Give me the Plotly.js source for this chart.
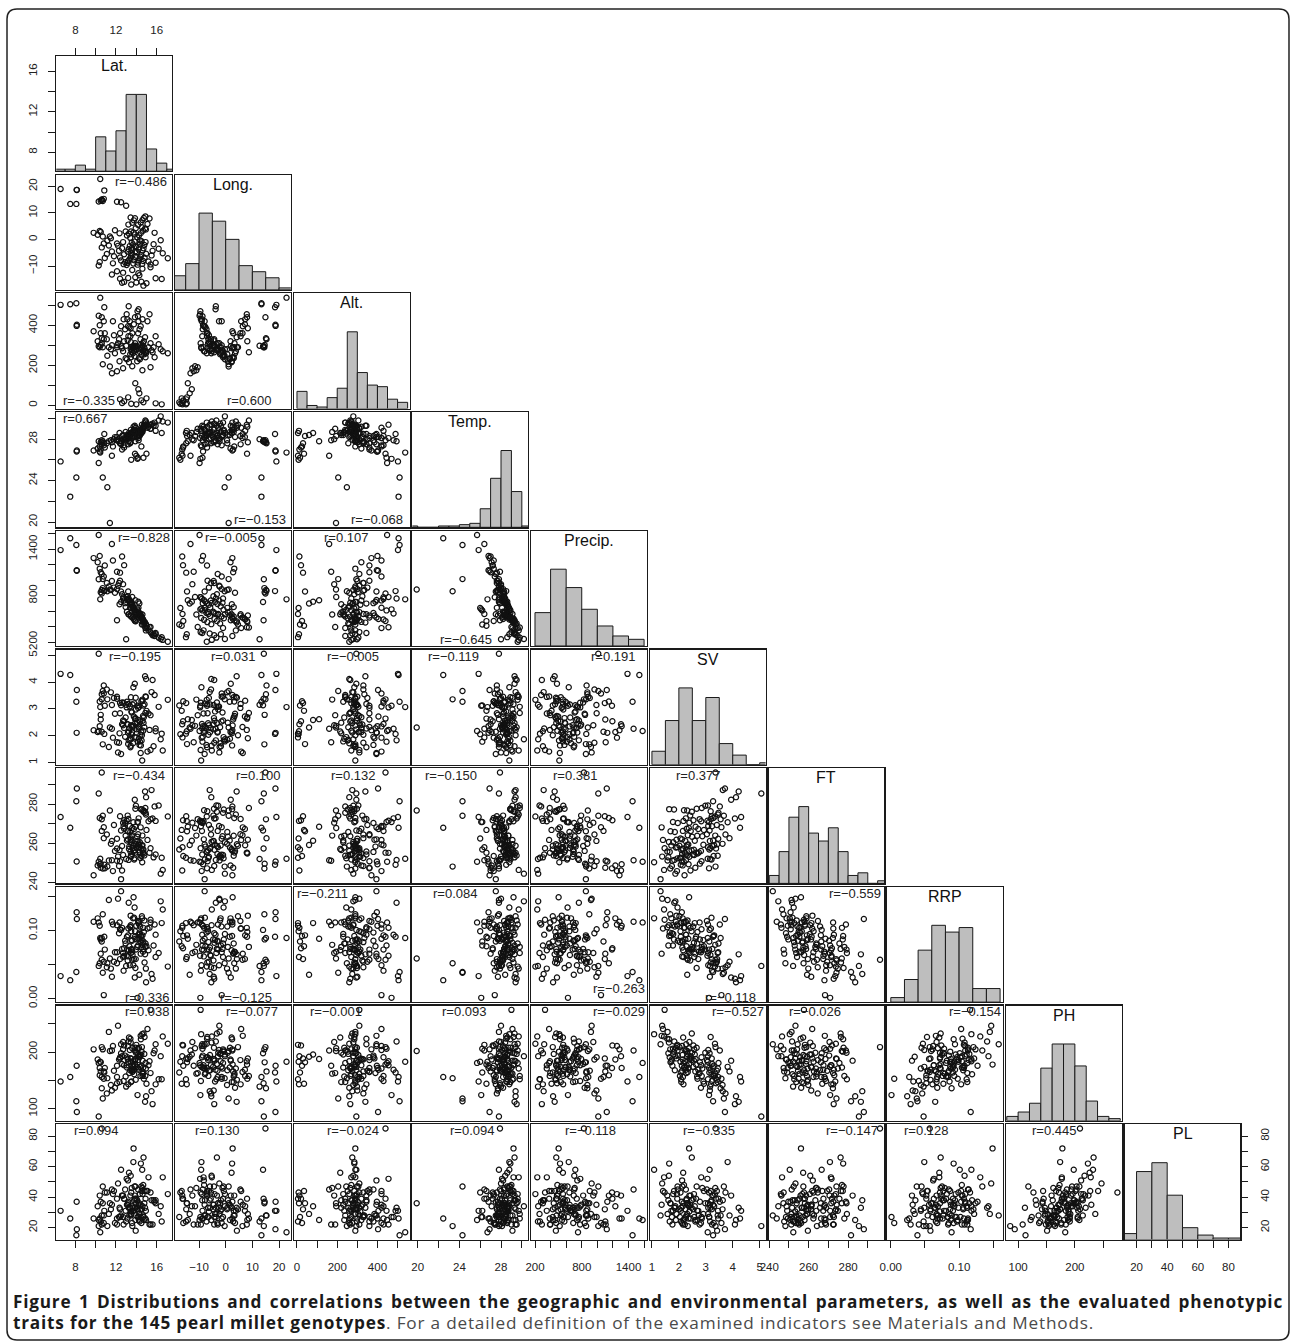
<!DOCTYPE html>
<html><head><meta charset="utf-8">
<script src="https://cdn.plot.ly/plotly-3.0.1.min.js"></script>
<style>html,body{margin:0;padding:0;background:#fff;}#chart{width:1290px;height:1341px;}</style>
</head><body><div id="chart"></div>
<script>
// ---------------- data (145 genotypes, read/estimated from the figure) ----------------
const varNames = ['Lat.', 'Long.', 'Alt.', 'Temp.', 'Precip.', 'SV', 'FT', 'RRP', 'PH', 'PL'];

const lat = [
 6.55, 8.13, 8.15, 7.5, 8.1, 10.45, 10.85, 10.3, 10.5, 10.6, 10.8, 10.7, 10.6, 12.1, 13.0, 12.5,
 12.6, 12.8, 12.4, 13.2, 13.5, 14.0, 14.5, 14.7, 15.0, 15.9, 16.5, 14.2, 14.3, 11.6, 12.1, 12.7, 13.6, 14.6, 15.4, 13.9,
 10.3, 10.7, 11.15, 11.4, 9.8, 10.2, 10.4, 10.5, 10.6, 10.8, 10.9, 10.4, 11.1, 11.3, 11.5, 11.6, 11.8, 11.9, 11.7,
 12.1, 12.2, 12.3, 12.4, 12.5, 12.6, 12.7, 12.8, 12.9, 12.35, 12.95, 12.75,
 13.05, 13.12, 13.18, 13.31, 13.42, 13.48, 13.63, 13.71, 13.79, 13.88, 13.45, 13.15, 13.25, 13.36, 13.52, 13.58, 13.68, 13.83, 13.91, 13.96, 13.55, 13.08, 13.28, 13.47, 13.73, 13.85, 13.94, 13.4, 13.22, 13.61, 13.76, 13.87, 13.44,
 14.12, 14.16, 14.21, 14.32, 14.41, 14.49, 14.58, 14.68, 14.81, 14.96, 14.05, 14.23, 14.29, 14.38, 14.52, 14.62, 14.71, 14.79, 14.91, 14.35, 14.09, 14.26, 14.45, 14.66, 14.86, 14.55, 14.94, 14.18, 14.43, 14.61, 14.74, 14.89,
 17.1, 16.4, 16.2, 16.6, 15.2, 15.4, 15.5, 15.6, 15.7, 15.8, 15.1, 15.3, 15.9
];
const lon = [
 19.0, 18.7, 18.65, 13.4, 13.4, 22.8, 18.5, 14.3, 14.6, 14.9, 15.3, 14.5, 15.1, 14.2, 12.7, 14.0,
 -16.3, -16.0, -14.8, -14.5, -17.0, -16.2, -15.9, -17.4, -16.5, -14.6, -14.9, -12.7, -13.5, -13.2, -12.0, -12.5, -11.5, -11.0, -10.5, -14.2,
 -9.8, 1.1, -0.4, 1.1, 2.5, 1.8, 3.2, 2.8, -3.0, -1.5, -7.0, -8.5, -5.5, -2.3, 0.5, -4.5, -6.3, 3.5, -9.0,
 -1.5, -2.4, -4.3, -6.8, -7.9, -3.3, -1.0, -5.6, -8.6, 2.3, 3.0, -9.3,
 -9.6, -8.9, -8.2, -7.6, -7.0, -6.3, -5.8, -9.1, -7.8, -6.6, -5.3, -4.6, -3.7, -2.5, -4.0, -3.1, -1.9, -0.8, -4.4, -2.8, -1.2, 1.5, 2.2, 3.0, 2.6, 1.9, 4.2, 0.6, 5.6, 6.3, 7.2, 8.0, 8.3,
 -9.5, -8.7, -7.9, -7.2, -6.5, -5.9, -9.2, -8.1, -6.9, -5.4, -4.7, -3.8, -2.9, -1.6, -0.7, -4.2, -3.3, -2.1, -1.0, -0.3, 0.8, 1.6, 2.4, 3.3, 4.1, 4.6, 3.8, 5.5, 6.4, 7.3, 8.1, 8.7,
 -7.1, -0.3, -3.5, -5.2, -8.3, -9.4, -6.0, -4.3, -1.8, 2.5, 5.8, 7.9, -8.8
];
const alt = [
 502, 397, 403, 505, 510, 538, 490, 295, 302, 440, 330, 290, 335, 290, 298, 295,
 12, 20, 30, 40, 8, 5, 25, 15, 35, 10, 5, 80, 60, 160, 170, 185, 195, 175, 190, 110,
 448, 205, 248, 194, 370, 320, 290, 360, 310, 420, 360, 400, 330, 290, 280, 300, 350, 260, 420,
 300, 310, 330, 360, 395, 285, 270, 320, 380, 220, 235, 430,
 455, 430, 395, 390, 345, 315, 295, 285, 270, 310, 280, 325, 495, 420, 290, 275, 260, 245, 298, 280, 265, 230, 215, 240, 290, 295, 290, 255, 345, 360, 405, 440, 385,
 470, 445, 420, 380, 330, 305, 290, 270, 285, 260, 295, 480, 280, 265, 252, 298, 275, 255, 240, 230, 220, 235, 285, 310, 340, 290, 270, 360, 395, 430, 320, 265,
 260, 280, 305, 270, 290, 310, 275, 265, 290, 240, 420, 455, 345
];
const temp = [
 25.85, 26.8, 26.9, 22.45, 24.3, 26.7, 28.5, 27.8, 27.7, 27.9, 27.6, 27.8, 27.7, 27.9, 28.0, 27.8,
 27.0, 27.2, 27.6, 28.3, 26.0, 26.4, 27.3, 26.2, 26.6, 28.8, 28.6, 28.6, 28.4, 26.4, 27.9, 28.0, 28.3, 28.7, 29.0, 27.8,
 25.7, 24.3, 23.35, 19.9, 26.9, 27.1, 27.3, 27.0, 27.5, 27.4, 27.2, 26.8, 27.6, 27.8, 27.9, 27.7, 28.0, 28.2, 27.3,
 28.2, 28.0, 27.8, 27.6, 27.5, 28.3, 28.4, 28.1, 27.9, 28.6, 28.7, 27.4,
 28.1, 28.3, 28.2, 28.4, 28.5, 28.6, 28.7, 28.8, 28.9, 28.6, 28.4, 28.2, 27.8, 28.1, 28.5, 28.6, 28.7, 28.8, 28.9, 29.1, 28.3, 28.4, 28.6, 28.9, 29.2, 29.3, 29.1, 27.6, 27.5, 28.1, 28.2, 26.6, 27.7,
 26.1, 26.2, 28.1, 28.3, 28.5, 28.6, 28.8, 29.0, 29.2, 29.4, 28.2, 27.9, 28.4, 28.7, 28.9, 29.1, 29.3, 29.5, 29.6, 28.6, 28.4, 28.7, 28.9, 29.1, 29.3, 29.4, 29.7, 28.3, 28.5, 28.8, 29.2, 29.8,
 29.6, 30.2, 29.8, 29.7, 29.2, 29.0, 29.4, 29.5, 29.3, 29.6, 29.1, 29.4, 29.3
];
const precip = [
 1387, 1128, 1121, 1539, 1452, 752, 858, 1012, 843, 828, 862, 897, 872, 483, 238, 717,
 1304, 1193, 1096, 853, 641, 562, 473, 428, 412, 301, 264, 722, 698, 1465, 1107, 948, 783, 557, 396, 741,
 1581, 1013, 856, 878, 1284, 1231, 1148, 1102, 1079, 1047, 1188, 1312, 963, 918, 872, 988, 903, 837, 1252,
 884, 927, 962, 991, 853, 818, 764, 736, 703, 688, 652, 779,
 781, 758, 743, 722, 697, 683, 648, 633, 612, 587, 704, 792, 763, 738, 719, 691, 662, 618, 579, 563, 709, 592, 558, 531, 503, 482, 468, 642, 561, 517, 498, 471, 543,
 623, 609, 644, 577, 562, 538, 512, 487, 458, 432, 591, 568, 553, 529, 508, 497, 473, 441, 382, 559, 582, 548, 521, 478, 452, 428, 351, 542, 519, 492, 461, 389,
 205, 241, 258, 229, 352, 329, 311, 288, 302, 279, 381, 392, 318
];
const sv = [
 4.31, 2.11, 3.71, 4.27, 3.27, 3.07, 2.07, 5.06, 2.78, 3.36, 3.88, 1.68, 3.55, 3.38, 3.16, 3.14,
 2.43, 2.54, 3.22, 1.69, 2.06, 1.94, 3.29, 3.13, 2.93, 2.17, 2.08, 2.59, 2.31, 2.26, 1.76, 2.39, 2.37, 3.35, 2.77, 2.62,
 2.18, 3.67, 3.36, 2.31, 2.21, 2.14, 3.28, 2.61, 2.15, 3.58, 3.12, 2.36, 3.73, 1.58, 3.62, 3.15, 3.41, 2.82, 1.93,
 3.46, 1.38, 1.74, 2.84, 1.32, 3.24, 2.57, 2.29, 1.96, 2.09, 2.68, 3.23,
 3.06, 2.44, 2.12, 2.28, 1.57, 2.39, 3.17, 3.81, 3.21, 2.47, 1.63, 2.42, 1.83, 3.09, 2.91, 2.12, 1.72, 1.95, 2.66, 2.98, 2.87, 3.27, 2.16, 3.44, 2.38, 3.94, 3.42, 1.85, 3.19, 2.33, 2.72, 2.64, 1.91,
 3.12, 1.78, 2.35, 1.66, 2.04, 2.13, 1.08, 2.19, 3.18, 4.12, 2.24, 2.26, 3.08, 2.53, 1.82, 2.56, 2.48, 2.32, 3.47, 1.79, 2.49, 1.89, 1.64, 2.74, 4.22, 2.02, 3.45, 3.04, 1.36, 3.31, 2.69, 2.85,
 3.34, 1.87, 3.08, 1.45, 2.83, 1.47, 3.63, 4.08, 1.61, 3.52, 1.41, 2.22, 2.27
];
const ft = [
 273.5, 250.8, 288.0, 268.0, 281.5, 252.2, 249.1, 285.5, 249.7, 296.2, 262.7, 247.2, 272.3, 257.4, 252.1, 266.6,
 246.2, 271.8, 273.9, 266.2, 262.5, 258.1, 253.6, 256.9, 266.9, 271.5, 252.7, 261.4, 259.2, 251.4, 251.2, 270.6, 267.9, 264.0, 272.4, 268.5,
 250.7, 274.1, 248.2, 276.8, 243.8, 248.8, 273.0, 247.6, 266.4, 268.3, 247.3, 249.4, 264.6, 251.3, 259.8, 261.3, 269.4, 256.2, 245.9,
 262.4, 253.3, 248.5, 250.9, 241.8, 258.7, 254.1, 267.5, 270.4, 256.6, 263.9, 268.8,
 271.6, 266.3, 262.1, 258.4, 255.9, 253.2, 257.7, 270.8, 251.8, 256.5, 260.8, 274.2, 251.6, 268.9, 259.3, 254.6, 258.9, 252.4, 277.7, 279.2, 263.7, 261.5, 257.2, 253.7, 256.1, 282.3, 259.6, 265.8, 272.5, 264.2, 267.4, 255.3, 261.9,
 270.9, 270.9, 259.5, 255.7, 252.6, 257.3, 250.4, 276.9, 276.4, 283.6, 261.2, 272.8, 258.1, 254.3, 277.3, 256.8, 276.2, 253.9, 275.6, 260.6, 263.4, 257.9, 277.5, 255.4, 286.5, 258.8, 274.8, 264.7, 268.2, 259.1, 254.9, 278.1,
 273.8, 244.6, 279.4, 246.5, 271.3, 257.6, 287.2, 272.7, 252.9, 278.9, 261.8, 255.2, 254.4
];
const rrp = [
 0.033, 0.127, 0.117, 0.027, 0.039, 0.089, 0.091, 0.048, 0.087, 0.057, 0.054, 0.124, 0.089, 0.052, 0.048, 0.101,
 0.104, 0.074, 0.058, 0.093, 0.099, 0.107, 0.092, 0.084, 0.077, 0.061, 0.111, 0.111, 0.035, 0.113, 0.108, 0.067, 0.069, 0.079, 0.112, 0.088,
 0.112, 0.038, 0.052, 0.059, 0.113, 0.118, 0.052, 0.066, 0.084, 0.005, 0.072, 0.107, 0.046, 0.145, 0.044, 0.032, 0.054, 0.068, 0.109,
 0.068, 0.147, 0.096, 0.102, 0.158, 0.073, 0.061, 0.063, 0.085, 0.112, 0.081, 0.041,
 0.063, 0.072, 0.062, 0.077, 0.105, 0.072, 0.064, 0.049, 0.119, 0.099, 0.108, 0.056, 0.141, 0.049, 0.086, 0.085, 0.118, 0.134, 0.045, 0.072, 0.073, 0.091, 0.071, 0.067, 0.149, 0.031, 0.058, 0.106, 0.103, 0.057, 0.058, 0.091, 0.122,
 0.001, 0.078, 0.088, 0.097, 0.083, 0.075, 0.118, 0.104, 0.053, 0.024, 0.087, 0.094, 0.109, 0.106, 0.087, 0.082, 0.073, 0.115, 0.081, 0.095, 0.076, 0.113, 0.092, 0.069, 0.065, 0.121, 0.044, 0.114, 0.066, 0.093, 0.098, 0.076,
 0.047, 0.143, 0.067, 0.131, 0.071, 0.116, 0.036, 0.029, 0.078, 0.109, 0.103, 0.104, 0.094
];
const ph = [
 148, 176, 94, 156, 113, 183, 164, 86, 182, 209, 166, 205, 136, 145, 139, 198,
 193, 212, 189, 182, 183, 213, 176, 164, 144, 143, 152, 196, 192, 203, 176, 218, 207, 162, 163, 188,
 181, 118, 154, 202, 205, 187, 159, 166, 156, 153, 172, 172, 127, 236, 142, 132, 167, 137, 211,
 156, 247, 187, 191, 214, 179, 205, 177, 194, 147, 157, 149,
 177, 191, 211, 163, 224, 189, 168, 174, 161, 186, 217, 188, 219, 204, 148, 167, 184, 203, 208, 199, 171, 173, 226, 147, 178, 185, 151, 168, 143, 165, 169, 178, 189,
 124, 206, 171, 191, 158, 195, 232, 173, 227, 122, 174, 169, 193, 174, 201, 185, 233, 197, 181, 196, 199, 208, 223, 162, 112, 209, 171, 186, 229, 158, 153, 158,
 215, 193, 152, 228, 177, 275, 131, 108, 198, 203, 241, 184, 214
];
const pl = [
 31, 37, 19, 26, 15, 17, 31, 21, 37, 85, 28, 36, 28, 39, 24, 58,
 41, 39, 32, 36, 43, 39, 23, 27, 44, 36, 24, 34, 29, 45, 22, 41, 34, 46, 22, 25,
 25, 47, 21, 36, 26, 34, 41, 24, 22, 23, 43, 26, 43, 29, 32, 35, 44, 23, 42,
 26, 49, 27, 27, 28, 41, 27, 39, 45, 33, 31, 22,
 52, 26, 51, 28, 41, 30.6, 33, 63, 38, 33, 54, 35, 33, 33, 29, 23, 31, 47, 47, 36, 46, 35, 56, 28, 72, 41, 18, 33, 37, 21, 31, 39, 29,
 27, 31, 35, 24, 27, 47, 58, 48, 44, 25, 32, 27, 36, 32, 44, 42, 66, 36, 39, 42, 38, 25, 62, 28, 33, 32, 31, 45, 35, 34, 25, 26,
 42, 34, 29, 53, 53, 43, 38, 22, 38, 37, 44, 22, 38
];

// correlation labels printed in the lower panels (row-wise)
const rValues = [
 [-0.486],
 [-0.335, 0.600],
 [0.667, -0.153, -0.068],
 [-0.828, -0.005, 0.107, -0.645],
 [-0.195, 0.031, -0.005, -0.119, 0.191],
 [-0.434, 0.100, 0.132, -0.150, 0.381, 0.377],
 [0.336, -0.125, -0.211, 0.084, -0.263, -0.118, -0.559],
 [0.038, -0.077, -0.001, 0.093, -0.029, -0.527, -0.026, -0.154],
 [0.094, 0.130, -0.024, 0.094, -0.118, -0.335, -0.147, 0.128, 0.445]
];

// histogram breaks [start, end, step]
const histBreaks = [[6,18,1],[-20,25,5],[0,550,50],[19,31,1],[200,1600,200],[1,5.5,0.5],[240,300,5],[0,0.16,0.02],[80,280,20],[10,90,10]];

// tick values and labels
const tickVals = [[8,10,12,14,16],[-10,0,10,20],[0,100,200,300,400,500],[20,22,24,26,28,30],[200,400,600,800,1000,1200,1400,1600],[1,2,3,4,5],[240,250,260,270,280,290],[0,0.05,0.10,0.15],[100,150,200,250],[20,30,40,50,60,70,80]];
const tickText = [['8','','12','','16'],['\u221210','0','10','20'],['0','','200','','400',''],['20','','24','','28',''],['200','','','800','','','1400',''],['1','2','3','4','5'],['240','','260','','280',''],['0.00','','0.10',''],['100','','200',''],['20','','40','','60','','80']];

// caption text
const CAP1 = 'Figure 1 Distributions and correlations between the geographic and environmental parameters, as well as the evaluated phenotypic';
const CAP2B = 'traits for the 145 pearl millet genotypes';
const CAP2 = '. For a detailed definition of the examined indicators see Materials and Methods.';

// ---------------- layout / style ----------------
const W = 1290, H = 1341;
const colLeft = j => 56.3 + 118.7 * j, panelW = 115.8;
const rowTop = i => 56 + 118.7 * i, panelH = 115.2;
const px = x => x / W, py = y => 1 - y / H;

// label positions (pixels) for the r annotations, same nesting as rValues
const rPos = [
 [[168,181,'right']],
 [[62,400,'left'],[249,400,'center']],
 [[62,418,'left'],[287,520,'right'],[404,520,'right']],
 [[171,537,'right'],[230.5,537,'center'],[345.6,537,'center'],[466,639,'center']],
 [[162,656,'right'],[233,656,'center'],[353,656,'center'],[453,656,'center'],[636,656,'right']],
 [[138.5,775,'center'],[257.5,775,'center'],[353,775,'center'],[451,775,'center'],[575,775,'center'],[698,775,'center']],
 [[147,997,'center'],[245.5,997,'center'],[322.5,893,'center'],[454.7,893,'center'],[646,988,'right'],[730,997,'center'],[882,893,'right']],
 [[147,1011.7,'center'],[252,1011.7,'center'],[335.5,1011.7,'center'],[464,1011.7,'center'],[646,1011.7,'right'],[765,1011.7,'right'],[815,1011.7,'center'],[1002,1011.7,'right']],
 [[96,1130.7,'center'],[217,1130.7,'center'],[353,1130.7,'center'],[471.5,1130.7,'center'],[590,1130.7,'center'],[709,1130.7,'center'],[851.5,1130.7,'center'],[926,1130.7,'center'],[1054,1130.7,'center']]
];

const cols = [lat, lon, alt, temp, precip, sv, ft, rrp, ph, pl];
function rRange(v) { const mn = Math.min(...v), mx = Math.max(...v), d = mx - mn; return [mn - 0.04 * d, mx + 0.04 * d]; }
const ranges = cols.map(rRange);

const INK = '#1a1a1a';
const FONT = 'Liberation Sans, Arial, Helvetica, sans-serif';
const frameAxis = { showline: true, mirror: true, linecolor: INK, linewidth: 1.2, showgrid: false, zeroline: false, fixedrange: true };
const noTicks = { ticks: '', showticklabels: false };
function tickAxis(v, side) {
  const vertical = side === 'left' || side === 'right';
  return { side: side, ticks: 'outside', ticklen: 7, tickwidth: 1, tickcolor: INK,
    tickmode: 'array', tickvals: tickVals[v], ticktext: tickText[v], showticklabels: true,
    tickfont: { family: FONT, size: 11.5, color: '#222' }, tickangle: vertical ? -90 : 0,
    ticklabelstandoff: vertical ? 7 : 9 };
}

function histogram(v, br) {
  const [s, e, st] = br, n = Math.round((e - s) / st), c = new Array(n).fill(0);
  v.forEach(x => { let k = Math.ceil((x - s) / st - 1e-9) - 1; if (k < 0) k = 0; if (k >= n) k = n - 1; c[k]++; });
  const mx = Math.max(...c);
  return { x: c.map((_, k) => s + st * (k + 0.5)), y: c.map(q => q / mx), w: st };
}
function fmtR(r) { return 'r=' + (r < 0 ? '\u2212' : '') + Math.abs(r).toFixed(3); }

const data = [], annotations = [];
const layout = { width: W, height: H, margin: { l: 0, r: 0, t: 0, b: 0 }, paper_bgcolor: '#fff', plot_bgcolor: '#fff',
  showlegend: false, barmode: 'overlay', hovermode: false };

let k = 0;
for (let i = 0; i < 10; i++) {
  for (let j = 0; j <= i; j++) {
    k++;
    const xr = 'x' + k, yr = 'y' + k;
    const xd = [px(colLeft(j)), px(colLeft(j) + panelW)];
    const yd = [py(rowTop(i) + panelH), py(rowTop(i))];
    const diag = i === j;
    let xt = noTicks;
    if (i === 9) xt = tickAxis(j, 'bottom');
    else if (i === 0 && j === 0) xt = tickAxis(0, 'top');
    layout['xaxis' + k] = Object.assign({ domain: xd, anchor: yr, range: ranges[j] }, frameAxis, xt);
    const yt = (j === 0 && i > 0) ? tickAxis(i, 'left') : noTicks;
    layout['yaxis' + k] = Object.assign({ domain: yd, anchor: xr, range: diag ? [0, 1.5] : ranges[i] }, frameAxis, yt);
    if (diag) {
      const h = histogram(cols[i], histBreaks[i]);
      data.push({ type: 'bar', x: h.x, y: h.y, width: h.w, xaxis: xr, yaxis: yr,
        marker: { color: '#bebebe', line: { color: INK, width: 1 } }, hoverinfo: 'skip' });
      annotations.push({ xref: 'paper', yref: 'paper', x: px(colLeft(j) + panelW / 2), y: py(rowTop(i) + 9.5),
        xanchor: 'center', yanchor: 'middle', showarrow: false, text: varNames[i],
        font: { family: FONT, size: 16, color: '#111' } });
      if (i === 0) {
        layout.yaxis56 = Object.assign({ overlaying: 'y1', anchor: 'x1', range: ranges[0] }, { showgrid: false, zeroline: false, showline: false, fixedrange: true }, tickAxis(0, 'left'));
        data.push({ type: 'scatter', mode: 'markers', x: [lat[0]], y: [lat[0]], xaxis: 'x1', yaxis: 'y56', marker: { opacity: 0 }, hoverinfo: 'skip' });
      }
      if (i === 9) {
        layout.yaxis57 = Object.assign({ overlaying: 'y' + k, anchor: 'x' + k, range: ranges[9] }, { showgrid: false, zeroline: false, showline: false, fixedrange: true }, tickAxis(9, 'right'));
        data.push({ type: 'scatter', mode: 'markers', x: [pl[0]], y: [pl[0]], xaxis: 'x' + k, yaxis: 'y57', marker: { opacity: 0 }, hoverinfo: 'skip' });
      }
    } else {
      data.push({ type: 'scatter', mode: 'markers', x: cols[j], y: cols[i], xaxis: xr, yaxis: yr,
        marker: { symbol: 'circle-open', size: 5.2, color: '#111', line: { width: 1.2 } }, hoverinfo: 'skip' });
      const p = rPos[i - 1][j];
      annotations.push({ xref: 'paper', yref: 'paper', x: px(p[0]), y: py(p[1]), xanchor: p[2], yanchor: 'middle',
        showarrow: false, text: fmtR(rValues[i - 1][j]), font: { family: FONT, size: 13, color: '#222' }, borderpad: 0 });
    }
  }
}

// caption (one text block, two lines)
const CAP_FS = 17.2;
annotations.push({ xref: 'paper', yref: 'paper', x: px(12), y: py(1312.2), xanchor: 'left', yanchor: 'middle', align: 'left',
  showarrow: false, borderpad: 0,
  text: '<b>' + CAP1 + '</b><br><b>' + CAP2B + '</b><span style="color:#4a4a4a">' + CAP2 + '</span>',
  font: { family: 'Open Sans, sans-serif', size: CAP_FS, color: '#1a1a1a' } });
layout.annotations = annotations;

// rounded frame
const fx = v => px(v).toFixed(5), fy = v => py(v).toFixed(5);
const L = 7, T = 9, R = 1289, B = 1340, rad = 10;
layout.shapes = [{ type: 'path', xref: 'paper', yref: 'paper', line: { color: '#222', width: 1.5 },
  path: `M ${fx(L)},${fy(B - rad)} L ${fx(L)},${fy(T + rad)} Q ${fx(L)},${fy(T)} ${fx(L + rad)},${fy(T)} L ${fx(R - rad)},${fy(T)} Q ${fx(R)},${fy(T)} ${fx(R)},${fy(T + rad)} L ${fx(R)},${fy(B - rad)} Q ${fx(R)},${fy(B)} ${fx(R - rad)},${fy(B)} L ${fx(L + rad)},${fy(B)} Q ${fx(L)},${fy(B)} ${fx(L)},${fy(B - rad)} Z` }];

Plotly.newPlot('chart', data, layout, { staticPlot: true, displayModeBar: false }).then(() => {
  // typeset the caption like the printed figure: tight leading, slight tracking, first line justified
  document.querySelectorAll('.annotation-text').forEach(t => {
    if (t.textContent.indexOf('Figure 1') !== 0) return;
    const lines = t.querySelectorAll('tspan.line');
    if (lines.length < 2) return;
    const len1 = lines[0].getComputedTextLength(), len2 = lines[1].getComputedTextLength();
    const n1 = lines[0].textContent.length, n2 = lines[1].textContent.length;
    const ls = Math.max(0, Math.min(1.2, (1081 - len2) / n2));
    t.style.letterSpacing = ls.toFixed(3) + 'px';
    const sp = (lines[0].textContent.match(/ /g) || []).length;
    const ws = (1270 - (len1 + ls * n1)) / sp;
    if (ws > 0 && ws < 15) lines[0].style.wordSpacing = ws.toFixed(2) + 'px';
    if (lines[1].getAttribute('dy') !== null) lines[1].setAttribute('dy', '21px');
  });
});
</script>
</body></html>
